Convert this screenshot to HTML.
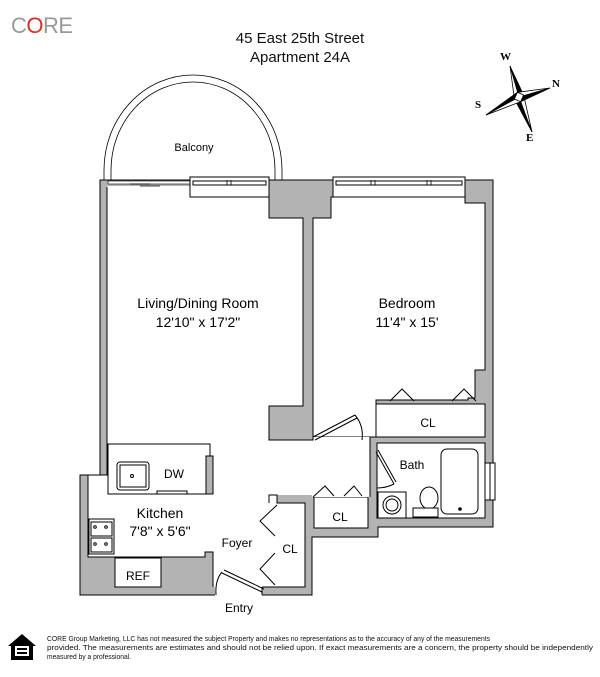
<!DOCTYPE html>
<html><head><meta charset="utf-8"><style>
html,body{margin:0;padding:0;background:#fff;}
body{width:600px;height:677px;overflow:hidden;position:relative;font-family:"Liberation Sans",Arial,sans-serif;}
</style></head><body>
<svg width="600" height="677" viewBox="0 0 600 677" xmlns="http://www.w3.org/2000/svg" style="position:absolute;left:0;top:0">
<g font-family="Liberation Sans, Arial, sans-serif">
<text x="11" y="33" font-size="22" fill="#999" letter-spacing="-0.5">C<tspan fill="#e03020">O</tspan>RE</text>
<text x="300" y="43" font-size="15" text-anchor="middle" fill="#111">45 East 25th Street</text>
<text x="300" y="62" font-size="15" text-anchor="middle" fill="#111">Apartment 24A</text>

<g stroke="#000" stroke-width="0.8">
<polygon points="510,66 523.6,95 519,97" fill="#000"/><polygon points="510,66 519,97 514.4,99" fill="#fff"/>
<polygon points="532,132 514.4,99 519,97" fill="#000"/><polygon points="532,132 519,97 523.6,95" fill="#fff"/>
<polygon points="486,115 517.4,92.3 519,97" fill="#000"/><polygon points="486,115 519,97 520.6,101.7" fill="#fff"/>
<polygon points="550,88 520.6,101.7 519,97" fill="#000"/><polygon points="550,88 519,97 517.4,92.3" fill="#fff"/>
<polygon points="517.4,92.3 523.6,95 520.6,101.7 514.4,99" fill="#fff"/>
</g>
<g font-family="Liberation Serif, serif" font-weight="bold" font-size="11">
<text x="500" y="60">W</text><text x="552" y="87">N</text><text x="475" y="108">S</text><text x="526" y="141">E</text>
</g>

<path d="M104,181 L104,170 A89,95 0 0 1 282,170 L282,181" fill="none" stroke="#000" stroke-width="0.8"/>
<path d="M111,181 L111,170 A82,88 0 0 1 275,170 L275,181" fill="none" stroke="#000" stroke-width="0.8"/>
<text x="194" y="151" font-size="11" text-anchor="middle">Balcony</text>

<polygon points="100,180 493,180 493,527 378,527 378,537 312,537 312,595 80,595 80,475 100,475" fill="#b3b3b3" stroke="#000" stroke-width="1"/>

<g fill="#fff" stroke="#000" stroke-width="1">
<polygon points="313,218 331,218 331,197 465,197 465,203 485,203 485,370 475,370 475,398 468,398 468,400 376,400 376,437 313,437"/>
<rect x="376" y="404" width="109" height="33"/>
<rect x="377" y="443" width="108" height="75"/>
<rect x="314" y="497" width="54" height="31"/>
</g>
<g fill="#fff">
<polygon points="107,187 269,187 269,218 303,218 303,406 269,406 269,440 107,440"/>
<polygon points="107,439 269,439 269,440 313,440 313,437 370,437 370,497 312,497 312,495 277,495 277,503 305,503 305,587 262,587 262,596 215,596 215,587 213,587 213,552 205,552 205,557 88,557 88,475 107,475"/>
<rect x="107" y="186" width="162" height="5"/>
</g>
<g stroke="#000" fill="none" stroke-width="1">
<polyline points="107,187 107,475 88,475 88,557 205,557 205,552 213,552 213,587"/>
<polyline points="269,187 269,218 303,218 303,406 269,406 269,440 313,440 313,437"/>
<polyline points="262,587 262,595"/>
<polyline points="262,587 305,587 305,503 277,503 277,495 269,495 269,503"/>
<polyline points="370,437 370,497"/>
</g>
<g stroke="#000" stroke-width="1" fill="#fff">
<rect x="108" y="181" width="82" height="3" stroke-width="0.6"/>
<rect x="190" y="177" width="79" height="20"/>
<rect x="193" y="181" width="73" height="4"/>
<rect x="333" y="177" width="132" height="20"/>
<rect x="336" y="181" width="126" height="4"/>
</g>
<g stroke="#000" stroke-width="0.8">
<line x1="130" y1="184" x2="150" y2="184"/><line x1="140" y1="186" x2="160" y2="186"/>
<line x1="227" y1="180" x2="227" y2="185"/><line x1="231" y1="180" x2="231" y2="185"/>
<line x1="371" y1="180" x2="371" y2="185"/><line x1="375" y1="180" x2="375" y2="185"/>
<line x1="427" y1="180" x2="427" y2="185"/><line x1="431" y1="180" x2="431" y2="185"/>
</g>

<g stroke="#000" stroke-width="1" fill="none">
<path d="M313,437 L355,415 M315,440 L357,418"/>
<path d="M355,415 Q364,426 362,440"/>
<path d="M376,452 L394,484 M378,450 L396,482"/>
<path d="M394,484 Q386,488 377,488"/>
<path d="M222,573 L262,592 M224,570 L264,589"/>
<path d="M222,572 Q215,580 216,595"/>
<polyline points="390,401 402,389 414,401"/><polyline points="452,401 464,389 476,401"/>
<polyline points="313,497 325,486 334,496"/><polyline points="344,496 354,486 362,496"/>
<polyline points="277,505 260,521 275,536"/><polyline points="275,553 260,569 275,585"/>
</g>

<g stroke="#000" stroke-width="1" fill="#fff">
<rect x="108" y="444" width="102" height="50" fill="none"/>
<rect x="206" y="456" width="7" height="38" fill="#b3b3b3"/>
<rect x="117" y="462" width="32" height="28" rx="3"/>
<rect x="120" y="465" width="26" height="22"/>
<circle cx="132" cy="476" r="1.5"/>
<rect x="157" y="491" width="30" height="3"/>
<rect x="89" y="519" width="25" height="35"/>
<rect x="91" y="522" width="21" height="14"/><rect x="91" y="538" width="21" height="14"/>
<circle cx="95" cy="527" r="1.3"/><circle cx="106" cy="527" r="1.3"/>
<circle cx="95" cy="544" r="1.3"/><circle cx="106" cy="544" r="1.3"/>
<rect x="115" y="558" width="46" height="29"/>
<rect x="441" y="449" width="37" height="65" rx="6"/>
<circle cx="460" cy="509" r="1.3" fill="#000"/>
<rect x="378" y="492" width="28" height="26"/>
<circle cx="392" cy="505" r="9"/><circle cx="392" cy="505" r="6"/>
<ellipse cx="429" cy="498" rx="9" ry="11"/>
<rect x="413" y="508" width="25" height="9"/>
<rect x="485" y="463" width="10" height="37"/>
<line x1="490" y1="463" x2="490" y2="500"/>
</g>

<g fill="#000" text-anchor="middle">
<text x="198" y="308" font-size="14">Living/Dining Room</text>
<text x="198" y="327" font-size="14">12'10" x 17'2"</text>
<text x="407" y="308" font-size="14">Bedroom</text>
<text x="407" y="327" font-size="14">11'4" x 15'</text>
<text x="428" y="427" font-size="12">CL</text>
<text x="412" y="469" font-size="12">Bath</text>
<text x="340" y="521" font-size="12">CL</text>
<text x="290" y="553" font-size="12">CL</text>
<text x="237" y="547" font-size="12">Foyer</text>
<text x="174" y="478" font-size="12">DW</text>
<text x="160" y="518" font-size="14">Kitchen</text>
<text x="160" y="536" font-size="14">7'8" x 5'6"</text>
<text x="138" y="580" font-size="12">REF</text>
<text x="239" y="612" font-size="12">Entry</text>
</g>

<g>
<polygon points="8,646 22,634 36,646 33,646 33,660 11,660 11,646" fill="#000"/>
<rect x="15" y="646" width="14" height="10" fill="#fff"/>
<rect x="17" y="648" width="10" height="2" fill="#000"/>
<rect x="17" y="652" width="10" height="2" fill="#000"/>
</g>
<g font-size="7" fill="#111">
<text x="47" y="641" textLength="443" lengthAdjust="spacingAndGlyphs">CORE Group Marketing, LLC has not measured the subject Property and makes no representations as to the accuracy of any of the measurements</text>
<text x="47" y="650" textLength="546" lengthAdjust="spacingAndGlyphs">provided. The measurements are estimates and should not be relied upon. If exact measurements are a concern, the property should be independently</text>
<text x="47" y="659" textLength="84" lengthAdjust="spacingAndGlyphs">measured by a professional.</text>
</g>
</g>
</svg>
</body></html>
